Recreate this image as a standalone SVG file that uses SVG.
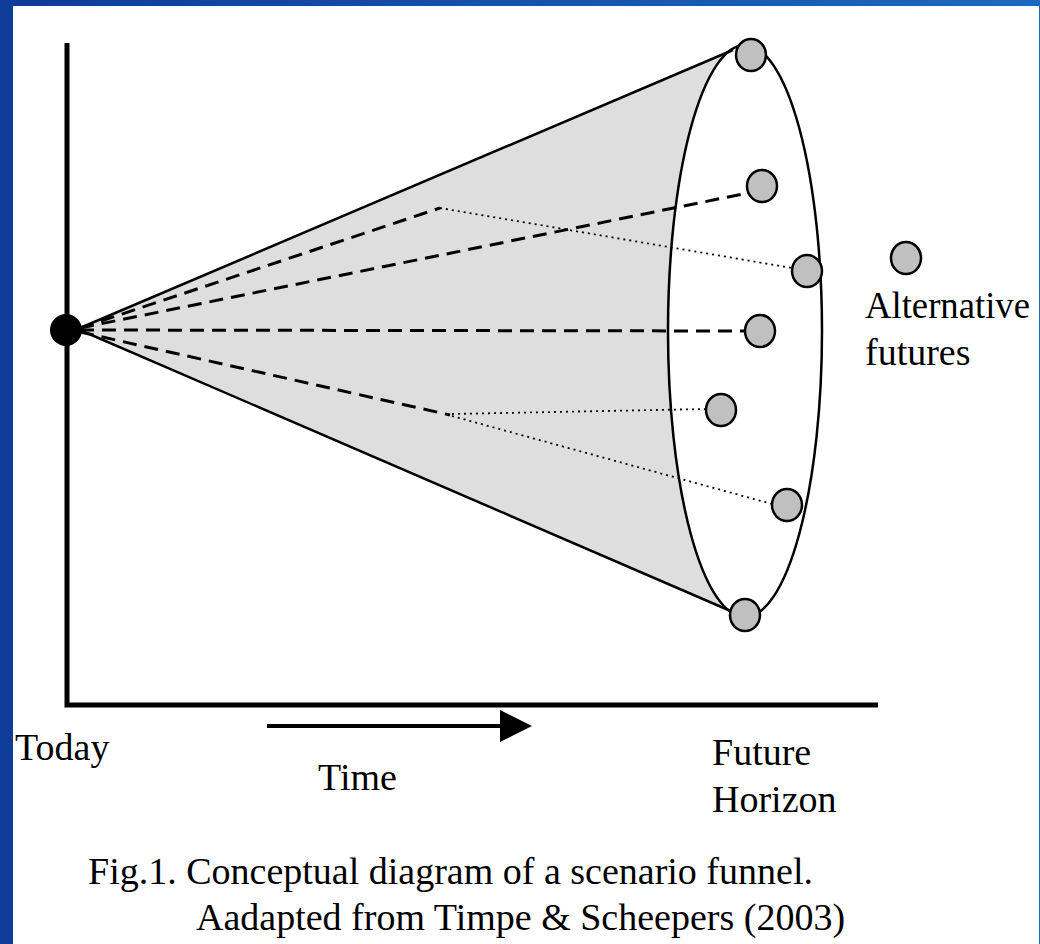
<svg xmlns="http://www.w3.org/2000/svg" width="1040" height="944" viewBox="0 0 1040 944">
<defs>
<linearGradient id="bg" x1="0" y1="0" x2="1" y2="0">
<stop offset="0" stop-color="#0e3c98"/>
<stop offset="1" stop-color="#1e68bd"/>
</linearGradient>
</defs>
<style>
.t{font-family:"Liberation Serif",serif;font-size:38px;fill:#000}
.fut{fill:#c0c0c0;stroke:#000;stroke-width:2.5}
.dash{fill:none;stroke:#000;stroke-width:3;stroke-dasharray:14 8}
.dot{fill:none;stroke:#000;stroke-width:1.8;stroke-dasharray:2 4}
.ax{fill:none;stroke:#000;stroke-width:5}
</style>
<rect width="1040" height="944" fill="url(#bg)"/>
<rect x="13" y="6" width="1026" height="938" fill="#fff"/>
<g id="funnel">
<path d="M80,328 L731,50 A77,286 0 0 0 731,612 Z" fill="#dedede"/>
<path d="M80,328 L733,50 M80,330 L733,612" fill="none" stroke="#000" stroke-width="2.5"/>
<ellipse cx="745" cy="331" rx="77" ry="286" fill="none" stroke="#000" stroke-width="2.5"/>
</g>
<g id="axes">
<path class="ax" d="M67,43 V705 H878"/>
<path d="M267,726 H502" stroke="#000" stroke-width="4"/>
<polygon points="500,710 532,726 500,742" fill="#000"/>
</g>
<g id="connectors">
<path class="dash" d="M80,328 L440,208"/>
<path class="dot" d="M440,208 L792,268"/>
<path class="dash" d="M80,328 L748,193"/>
<path class="dash" d="M80,330 L745,331"/>
<path class="dash" d="M80,332 L450,415"/>
<path class="dot" d="M452,414 L706,409"/>
<path class="dot" d="M452,416 L772,504"/>
</g>
<g id="today"><circle cx="66" cy="330" r="16" fill="#000"/></g>
<g id="future1"><ellipse class="fut" cx="751" cy="55" rx="15" ry="16"/></g>
<g id="future2"><ellipse class="fut" cx="762" cy="186" rx="15" ry="16"/></g>
<g id="future3"><ellipse class="fut" cx="807" cy="271" rx="15" ry="16"/></g>
<g id="future4"><ellipse class="fut" cx="760" cy="331" rx="15" ry="16"/></g>
<g id="future5"><ellipse class="fut" cx="721" cy="410" rx="15" ry="16"/></g>
<g id="future6"><ellipse class="fut" cx="787" cy="505" rx="15" ry="16"/></g>
<g id="future7"><ellipse class="fut" cx="745" cy="615" rx="15" ry="16"/></g>
<g id="legend">
<ellipse class="fut" cx="906" cy="258" rx="15" ry="16"/>
<text class="t" x="865" y="318" textLength="165" lengthAdjust="spacingAndGlyphs">Alternative</text>
<text class="t" x="865" y="365">futures</text>
</g>
<text class="t" x="15" y="760">Today</text>
<text class="t" x="318" y="790">Time</text>
<text class="t" x="712" y="765">Future</text>
<text class="t" x="712" y="812">Horizon</text>
<text class="t" x="88" y="884">Fig.1. Conceptual diagram of a scenario funnel.</text>
<text class="t" x="196" y="930">Aadapted from Timpe &amp; Scheepers (2003)</text>
</svg>
